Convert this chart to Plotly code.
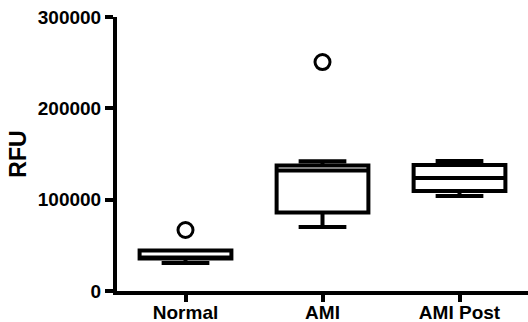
import plotly.graph_objects as go

categories = ["Normal", "AMI", "AMI Post"]
q1 = [35600, 86000, 109500]
median = [35800, 131900, 123700]
q3 = [44300, 137400, 138000]
lower_whisker = [30700, 70100, 104000]
upper_whisker = [44300, 142000, 142300]
outlier_x = ["Normal", "AMI"]
outlier_y = [66800, 250700]
y_ticks = [0, 100000, 200000, 300000]

font_main = dict(family="Liberation Sans, Arial, sans-serif", color="black", size=20, weight="bold")

fig = go.Figure()
fig.add_trace(go.Box(
    x=categories,
    q1=q1, median=median, q3=q3,
    lowerfence=lower_whisker, upperfence=upper_whisker,
    boxpoints=False,
    fillcolor="white",
    line=dict(color="black", width=4),
    whiskerwidth=0.52,
    width=0.67,
    showlegend=False,
    hoverinfo="skip",
))
fig.add_trace(go.Scatter(
    x=outlier_x, y=outlier_y, mode="markers",
    marker=dict(symbol="circle-open", size=15, color="black", line=dict(width=3, color="black")),
    showlegend=False, hoverinfo="skip",
))

fig.update_layout(
    width=528, height=322,
    margin=dict(l=117, r=0, t=17, b=31),
    plot_bgcolor="white", paper_bgcolor="white",
    font=font_main,
)
fig.update_xaxes(
    type="category", categoryorder="array", categoryarray=categories,
    range=[-0.5, 2.5], automargin=False,
    showline=True, linewidth=4, linecolor="black",
    ticks="outside", ticklen=7, tickwidth=4, tickcolor="black",
    ticklabelstandoff=-6,
    showgrid=False, zeroline=False,
    tickfont=dict(size=19),
)
fig.update_yaxes(
    range=[0, 300000], tickvals=y_ticks, tickformat="d", automargin=False,
    showline=True, linewidth=4, linecolor="black",
    ticks="outside", ticklen=8, tickwidth=4, tickcolor="black",
    showgrid=False, zeroline=False,
    tickfont=dict(size=19),
    title=dict(text="RFU", font=dict(size=23), standoff=6),
)

fig.write_html("out.html")
